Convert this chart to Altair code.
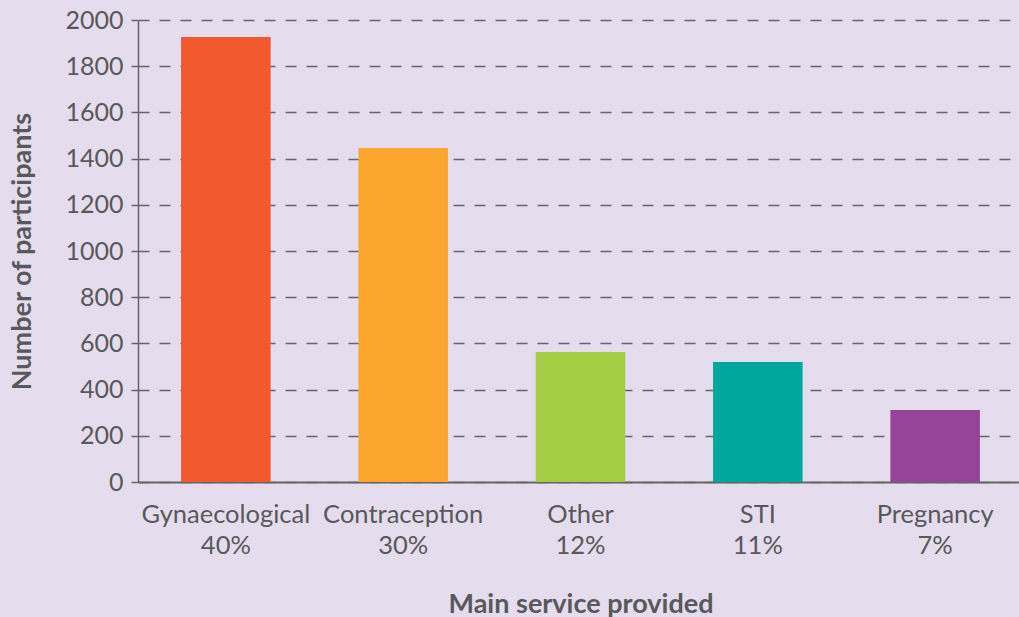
import altair as alt
import pandas as pd
import jinja2

categories = ["Gynaecological", "Contraception", "Other", "STI", "Pregnancy"]
percents = ["40%", "30%", "12%", "11%", "7%"]
values = [1926, 1446, 563, 519, 312]
colors = ["#F15A2F", "#FBA72F", "#A4CD45", "#00A79D", "#954499"]

BG = "#E5DCED"

df = pd.DataFrame({
    "service": [f"{c}\n{p}" for c, p in zip(categories, percents)],
    "count": values,
})
labels = list(df["service"])

FONT = "Lato"
TXT = "#58595B"

chart = alt.Chart(df).mark_bar().encode(
    x=alt.X("service:N", sort=labels,
            scale=alt.Scale(paddingInner=0.495, paddingOuter=0.243),
            axis=alt.Axis(title="Main service provided", labelAngle=0,
                          labelExpr="split(datum.label, '\\n')",
                          labelFontSize=25.5, labelFont=FONT, labelColor=TXT,
                          labelLineHeight=31, labelPadding=20, ticks=False,
                          domainColor="#666666", domainWidth=2,
                          titleFont=FONT, titleFontSize=27, titleFontWeight="bold",
                          titleColor=TXT, titleY=130, titleBaseline="alphabetic",
                          grid=False)),
    y=alt.Y("count:Q", scale=alt.Scale(domain=[0, 2000]),
            axis=alt.Axis(title="Number of participants", values=list(range(0, 2001, 200)),
                          format="d",
                          labelFontSize=25, labelFont=FONT, labelColor=TXT,
                          labelPadding=8, tickSize=7, tickColor="#666666", tickWidth=1.5,
                          domainColor="#666666", domainWidth=1.5,
                          grid=True, gridColor="#666666", gridWidth=1.5,
                          gridDash=[11, 10],
                          titleFont=FONT, titleFontSize=27, titleFontWeight="bold",
                          titleColor=TXT, titleX=-116, titleBaseline="middle")),
    color=alt.Color("service:N", sort=labels,
                    scale=alt.Scale(domain=labels, range=colors), legend=None),
).properties(
    width=885, height=462,
    background=BG,
    padding={"left": 138, "top": 20, "right": 0, "bottom": 135},
    autosize=alt.AutoSizeParams(type="none"),
).configure_view(stroke=None)

TEMPLATE = jinja2.Template("""<!DOCTYPE html>
<html>
<head>
  <style>
    html, body { margin: 0; padding: 0; overflow: hidden; background: """ + BG + """; }
  </style>
  <script type="text/javascript" src="{{ base_url }}/vega@{{ vega_version }}"></script>
  {%- if mode == 'vega-lite' %}
  <script type="text/javascript" src="{{ base_url }}/vega-lite@{{ vegalite_version }}"></script>
  {%- endif %}
  <script type="text/javascript" src="{{ base_url }}/vega-embed@{{ vegaembed_version }}"></script>
</head>
<body>
  <div id="{{ output_div }}"></div>
  <script type="text/javascript">
    (function(vegaEmbed) {
      var spec = {{ spec }};
      var embedOpt = {{ embed_options }};
      vegaEmbed("#{{ output_div }}", spec, embedOpt);
    })(vegaEmbed);
  </script>
</body>
</html>
""")

chart.save("out.html", embed_options={"renderer": "svg", "actions": False},
           template=TEMPLATE)
